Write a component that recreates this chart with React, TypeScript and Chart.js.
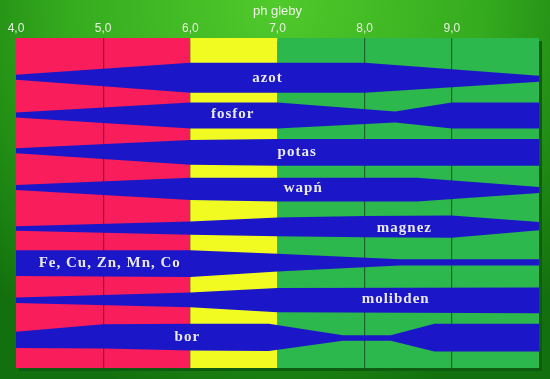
import React, { useEffect, useRef } from "react";
import { Chart, registerables } from "chart.js";
Chart.register(...registerables);

// pH axis
const phMin = 4;
const phMax = 10;
const axisTitle = "ph gleby";

// soil reaction zones (pH boundaries)
const zoneFrom = [4, 6, 7];
const zoneTo = [6, 7, 10];
const zoneColors = ["#f91d5b", "#f1fb22", "#2cb84c"];

// availability bands: depth scale 0 (top) .. 332 (bottom)
const azotPh = [4, 6, 8, 10];
const azotTop = [37, 25, 25, 38];
const azotBottom = [42, 55, 55, 44];

const fosforPh = [4, 6, 7, 8.35, 9, 10];
const fosforTop = [75, 65, 65, 74, 65, 65];
const fosforBottom = [80, 91, 91, 85, 91, 91];

const potasPh = [4, 6, 7, 10];
const potasTop = [111, 102.5, 101.5, 101.5];
const potasBottom = [116, 127.5, 128.5, 128.5];

const wapnPh = [4, 6, 7, 8.6, 10];
const wapnTop = [148, 140.5, 140.5, 140.5, 150];
const wapnBottom = [153, 163, 164.5, 164.5, 156];

const magnezPh = [4, 6, 7, 8, 9, 10];
const magnezTop = [189.5, 184.5, 180.5, 179, 178.5, 185];
const magnezBottom = [194, 198, 199.5, 200.5, 201, 193.5];

const metalePh = [4, 6, 7, 8.4, 10];
const metaleTop = [213.5, 213.5, 217, 222.5, 222.5];
const metaleBottom = [239.5, 240.5, 235, 229, 229];

const molibdenPh = [4, 6, 7, 10];
const molibdenTop = [261, 256, 251.5, 251];
const molibdenBottom = [266.5, 271, 276, 277];

const borPh = [4, 5, 6, 6.9, 7.75, 8.3, 8.8, 10];
const borTop = [295.5, 288, 287.5, 287.5, 299, 299, 287.5, 287.5];
const borBottom = [312, 312.5, 314.5, 315, 304.5, 304.5, 315.5, 315.5];

// labels
const labelNames = ["azot", "fosfor", "potas", "wapń", "magnez", "Fe, Cu, Zn, Mn, Co", "molibden", "bor"];
const labelPh = [6.88, 6.48, 7.22, 7.29, 8.45, 5.07, 8.35, 5.96];
const labelLevel = [40, 76.7, 114.7, 151, 191, 226.7, 263, 301];

const bands = [
  [azotPh, azotTop, azotBottom],
  [fosforPh, fosforTop, fosforBottom],
  [potasPh, potasTop, potasBottom],
  [wapnPh, wapnTop, wapnBottom],
  [magnezPh, magnezTop, magnezBottom],
  [metalePh, metaleTop, metaleBottom],
  [molibdenPh, molibdenTop, molibdenBottom],
  [borPh, borTop, borBottom],
];

const BLUE = "#1b17c9";

const zonesPlugin = {
  id: "zones",
  beforeDraw(chart: any) {
    const { ctx, chartArea, scales } = chart;
    const x = scales.x;
    ctx.save();
    ctx.fillStyle = "#0e5c10";
    ctx.fillRect(chartArea.left + 3, chartArea.top + 3, chartArea.right - chartArea.left, chartArea.bottom - chartArea.top);
    zoneFrom.forEach((f, i) => {
      const x0 = x.getPixelForValue(f);
      const x1 = x.getPixelForValue(zoneTo[i]);
      ctx.fillStyle = zoneColors[i];
      ctx.fillRect(x0, chartArea.top, x1 - x0, chartArea.bottom - chartArea.top);
    });
    ctx.restore();
  },
};

const labelsPlugin = {
  id: "bandLabels",
  afterDatasetsDraw(chart: any) {
    const { ctx, scales } = chart;
    ctx.save();
    ctx.font = "bold 15px 'Liberation Serif', 'Times New Roman', serif";
    try {
      (ctx as any).letterSpacing = "1px";
    } catch (e) {}
    ctx.fillStyle = "#e8e8f6";
    ctx.textAlign = "center";
    ctx.textBaseline = "middle";
    labelNames.forEach((n, i) => {
      ctx.fillText(n, scales.x.getPixelForValue(labelPh[i]) + 0.5, scales.y.getPixelForValue(labelLevel[i]));
    });
    ctx.restore();
  },
};

export default function App() {
  const ref = useRef<HTMLCanvasElement>(null);
  useEffect(() => {
    if (!ref.current) return;
    const datasets: any[] = [];
    bands.forEach(([ph, top, bottom]) => {
      datasets.push({
        data: ph.map((p, i) => ({ x: p, y: top[i] })),
        borderColor: "rgba(0,0,0,0)",
        borderWidth: 0,
        pointRadius: 0,
        fill: false,
        tension: 0,
      });
      datasets.push({
        data: ph.map((p, i) => ({ x: p, y: bottom[i] })),
        borderColor: "rgba(0,0,0,0)",
        borderWidth: 0,
        pointRadius: 0,
        backgroundColor: BLUE,
        fill: "-1",
        tension: 0,
      });
    });
    const chart = new Chart(ref.current, {
      type: "line",
      data: { datasets },
      options: {
        animation: false,
        responsive: false,
        layout: { padding: { top: 4, left: 16, right: 11, bottom: 11 } },
        plugins: { legend: { display: false }, tooltip: { enabled: false } },
        scales: {
          x: {
            type: "linear",
            position: "top",
            min: phMin,
            max: phMax,
            title: {
              display: true,
              text: axisTitle,
              color: "#eef6e6",
              font: { family: "'Liberation Sans', Arial, sans-serif", size: 13 },
              padding: { top: 0, bottom: 0 },
            },
            ticks: {
              stepSize: 1,
              autoSkip: false,
              maxRotation: 0,
              padding: 2,
              color: "#e6f2dc",
              font: { family: "'Liberation Sans', Arial, sans-serif", size: 12 },
              callback: (v: any) => (v === phMax ? "" : Number(v).toFixed(1).replace(".", ",")),
            },
            grid: {
              drawTicks: false,
              lineWidth: 1.2,
              color: (c: any) => ([5, 8, 9].includes(c.tick?.value) ? "rgba(10,20,10,0.5)" : "rgba(0,0,0,0)"),
            },
            border: { display: false },
          },
          y: { type: "linear", display: false, min: 0, max: 332, reverse: true },
        },
      },
      plugins: [zonesPlugin, labelsPlugin],
    });
    return () => chart.destroy();
  }, []);
  return (
    <div
      style={{
        position: "fixed",
        left: 0,
        top: 0,
        width: 550,
        height: 379,
        background:
          "radial-gradient(ellipse 70% 110% at 50% 0%, #50ca2c 0%, #34aa1e 55%, #1c8412 85%, #13700e 100%)",
      }}
    >
      <canvas ref={ref} width={550} height={379} style={{ display: "block" }} />
    </div>
  );
}
